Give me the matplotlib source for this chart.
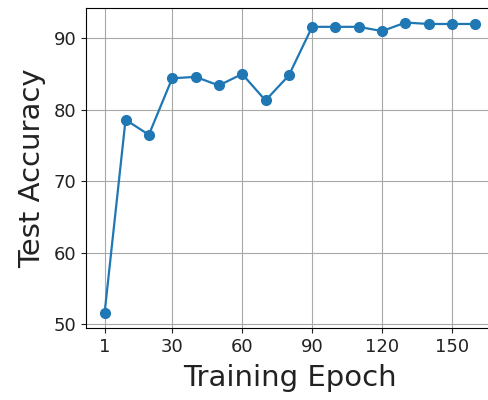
import matplotlib
matplotlib.use('Agg')
import matplotlib.pyplot as plt
from matplotlib.ticker import MultipleLocator

# Dados
epocas = [1, 10, 20, 30, 40, 50, 60, 70, 80, 90, 100, 110, 120, 130, 140, 150, 160]
acuracia = [51.5, 78.6, 76.5, 84.4, 84.6, 83.4, 85.0, 81.3, 84.8, 91.6, 91.6, 91.6, 91.0, 92.2, 92.0, 92.0, 92.0]
xticks = [1, 30, 60, 90, 120, 150]

fig = plt.figure(figsize=(4.88, 4.0), dpi=100)
ax = fig.add_axes([86 / 488, 72 / 400, (494 - 86) / 488, (328 - 8) / 400])

ax.plot(epocas, acuracia, marker='o', color='#1f77b4', linewidth=1.6, markersize=7)
ax.set_xticks(xticks)
ax.yaxis.set_major_locator(MultipleLocator(10))
ax.tick_params(labelsize=13, colors='#222222')
ax.grid(True, color='#a8a8a8')
ax.set_xlabel('Training Epoch', fontsize=21, color='#222222', labelpad=6)
ax.set_ylabel('Test Accuracy', fontsize=21, color='#222222', labelpad=5)

fig.savefig('out.png', dpi=100)
